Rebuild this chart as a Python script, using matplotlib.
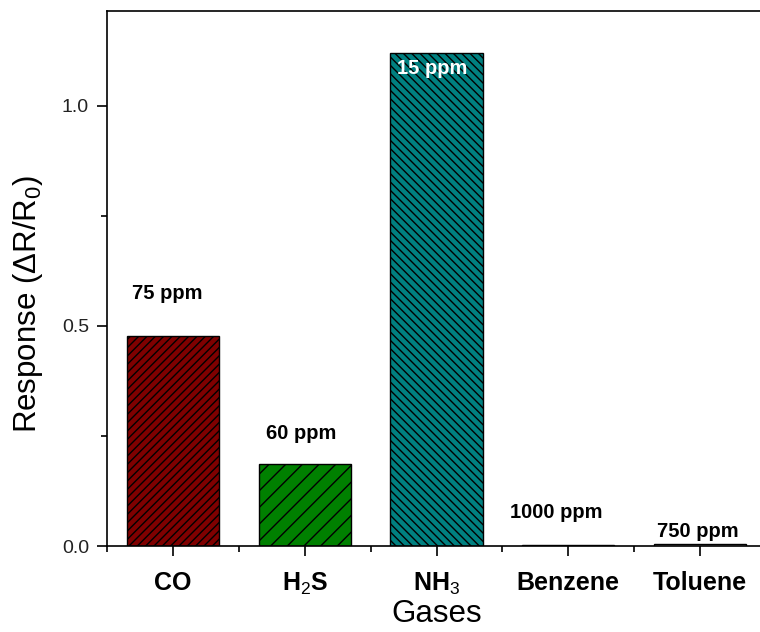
import matplotlib
matplotlib.use('Agg')
import matplotlib.pyplot as plt
from matplotlib.ticker import MultipleLocator, FixedLocator

plt.rcParams['font.family'] = ['Liberation Sans', 'DejaVu Sans']
plt.rcParams['mathtext.fontset'] = 'custom'
plt.rcParams['mathtext.rm'] = 'Liberation Sans'
plt.rcParams['mathtext.it'] = 'Liberation Sans:italic'
plt.rcParams['mathtext.bf'] = 'Liberation Sans:bold'
plt.rcParams['hatch.linewidth'] = 1.0

# gas response data
gases = ['CO', 'H$_2$S', 'NH$_3$', 'Benzene', 'Toluene']
response = [0.477, 0.186, 1.12, 0.003, 0.004]
conc = ['75 ppm', '60 ppm', '15 ppm', '1000 ppm', '750 ppm']
colors = ['#7f0000', '#008000', '#008080', '#ffffff', '#ffffff']
hatches = ['////', '//', '\\\\\\\\', '', '']

# label placement (x, y in data units)
lab_x = [0.96, 1.97, 2.97, 3.91, 4.98]
lab_y = [0.573, 0.255, 1.084, 0.077, 0.034]
lab_col = ['black', 'black', 'white', 'black', 'black']

fig = plt.figure(figsize=(7.6, 6.32), dpi=100)
ax = fig.add_axes([0.1408, 0.136, 0.8671, 0.8466])

pos = list(range(1, len(gases) + 1))
for x, v, c, h in zip(pos, response, colors, hatches):
    ax.bar(x, v, width=0.7, color=c, edgecolor='black', linewidth=1.0, hatch=h)

for x, y, t, c in zip(lab_x, lab_y, conc, lab_col):
    ax.text(x, y, t, ha='center', va='center', fontsize=14.5, fontweight='bold', color=c)

ax.set_xlim(0.5, 5.5)
ax.set_ylim(0, 1.215)
ax.set_xticks(pos)
ax.set_xticklabels(gases, fontweight='bold')
ax.xaxis.set_minor_locator(FixedLocator([0.5, 1.5, 2.5, 3.5, 4.5]))
ax.yaxis.set_major_locator(MultipleLocator(0.5))
ax.yaxis.set_minor_locator(MultipleLocator(0.25))
ax.tick_params(axis='both', which='major', direction='out', length=7, width=1.2, labelsize=14)
ax.tick_params(axis='x', which='major', pad=11, labelsize=18)
ax.tick_params(axis='both', which='minor', direction='out', length=4, width=1.2)
ax.tick_params(axis='y', which='major', pad=6, labelcolor='#222222')

for s in ax.spines.values():
    s.set_linewidth(1.2)

ax.set_xlabel('Gases', fontsize=22.5, labelpad=1)
ax.set_ylabel('Response ($\\Delta$R/R$_0$)', fontsize=22.5)
ax.yaxis.set_label_coords(-0.094, 0.453)

fig.savefig('out.png', dpi=100)
